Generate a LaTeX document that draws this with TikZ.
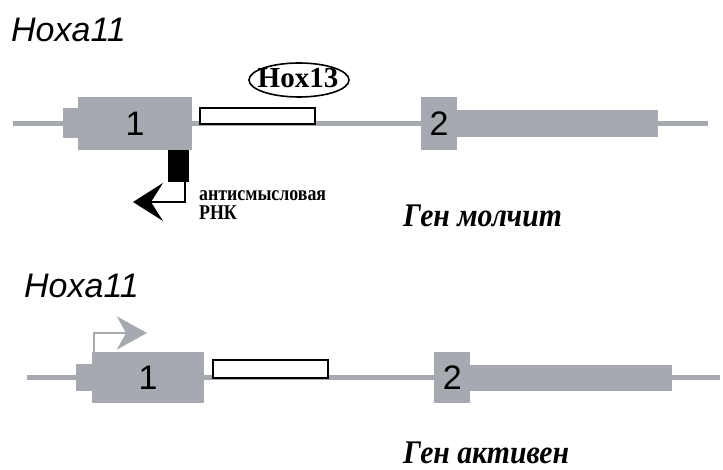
\documentclass[tikz,border=0pt]{standalone}
\usepackage{fontspec}
\setmainfont{Liberation Serif}
\setsansfont{Liberation Sans}
\newfontfamily\asfont[FakeStretch=0.85]{Liberation Serif}
\newfontfamily\statusfont[FakeStretch=0.9]{Liberation Serif}
\usetikzlibrary{arrows.meta,shapes.geometric}
\definecolor{exgray}{RGB}{166,170,176}
\begin{document}
\begin{tikzpicture}[x=1pt,y=-1pt,
  exon/.style={fill=exgray,draw=none,inner sep=0pt,anchor=north west,
    font=\sffamily\fontsize{34}{34}\selectfont},
  dna/.style={draw=exgray,line width=5pt},
  hoxbox/.style={draw=black,fill=white,line width=2.2pt,inner sep=0pt,anchor=north west},
  genename/.style={anchor=base west,inner sep=0pt,font=\sffamily\itshape\fontsize{34}{34}\selectfont},
  astext/.style={anchor=base west,inner sep=0pt,font=\asfont\bfseries\fontsize{21}{21}\selectfont},
  status/.style={anchor=base west,inner sep=0pt,font=\statusfont\bfseries\itshape\fontsize{33}{33}\selectfont}]
\useasboundingbox (0,0) rectangle (723,470);
% ---------- top ----------
\node[genename] (t1) at (11,42) {Hoxa11};
\coordinate (l1a) at (13,124);
\coordinate (l1b) at (708,124);
\draw[dna] (l1a) -- (l1b);
\node[exon,minimum width=16pt,minimum height=30pt] (e1a) at (63,108) {};
\node[exon,minimum width=114pt,minimum height=53pt] (e1) at (78,97) {1};
\node[hoxbox,minimum width=115pt,minimum height=16pt] (hb) at (199,107) {};
\node[inner sep=0pt,font=\bfseries\fontsize{29}{29}\selectfont] (hox) at (298,78) {Hox13};
\draw[line width=1.6pt] (299,80) ellipse [x radius=50pt, y radius=17pt];
\node[fill=black,draw=none,minimum width=21pt,minimum height=32pt,inner sep=0pt,anchor=north west] (as) at (168,150) {};
\coordinate (astip) at (133,202);
\draw[line width=2pt,-{Stealth[length=30pt,width=38pt,inset=12pt]}] ([xshift=-4pt]as.south east) |- (astip);
\node[astext] (astxt) at (199,201) {антисмысловая};
\node[astext] (astxt2) at (199,220) {РНК};
\node[exon,minimum width=36pt,minimum height=53pt] (e2) at (421,97) {2};
\node[exon,minimum width=201pt,minimum height=27pt] (e2b) at (457,110) {};
\node[status] (s1) at (403,227) {Ген молчит};
% ---------- bottom ----------
\node[genename] (t2) at (24,298) {Hoxa11};
\coordinate (l2a) at (27,377);
\coordinate (l2b) at (720,377);
\draw[dna] (l2a) -- (l2b);
\node[exon,minimum width=16pt,minimum height=27pt] (f1a) at (76,364) {};
\node[exon,minimum width=112pt,minimum height=51pt] (f1) at (92,352) {1};
\node[hoxbox,minimum width=115pt,minimum height=18pt] (hb2) at (212,359) {};
\node[exon,minimum width=36pt,minimum height=51pt] (f2) at (434,352) {2};
\node[exon,minimum width=202pt,minimum height=26pt] (f2b) at (470,365) {};
\coordinate (prtip) at (147,333);
\draw[exgray,line width=2pt,-{Stealth[length=30pt,width=33pt,inset=9pt]}] ([xshift=1.5pt]f1.north west) |- (prtip);
\node[status] (s2) at (403,463) {Ген активен};
\end{tikzpicture}
\end{document}
